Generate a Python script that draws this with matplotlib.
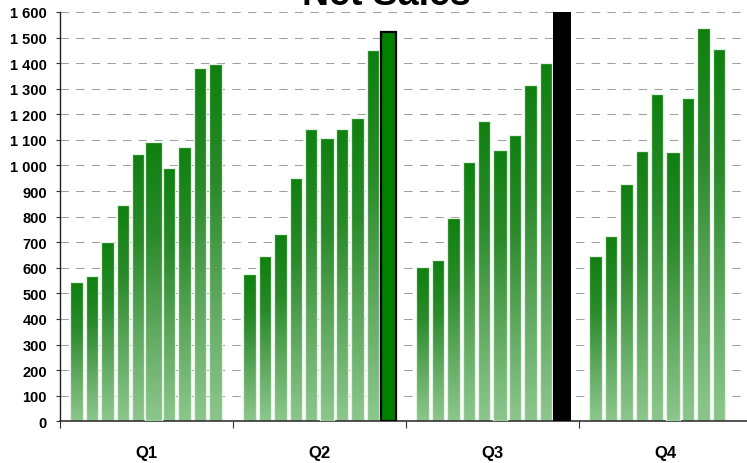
import numpy as np
import matplotlib
matplotlib.use('Agg')
import matplotlib.pyplot as plt
from matplotlib.colors import LinearSegmentedColormap
from matplotlib.ticker import FuncFormatter, MultipleLocator, FixedLocator

# Ventas netas por trimestre (10 periodos por trimestre, el Q4 aun incompleto)
trimestres = ['Q1', 'Q2', 'Q3', 'Q4']
ventas_q1 = [545, 567, 700, 845, 1045, 1090, 990, 1072, 1380, 1397]
ventas_q2 = [574, 645, 734, 953, 1142, 1108, 1142, 1186, 1450, 1522]
ventas_q3 = [605, 630, 794, 1013, 1172, 1061, 1120, 1313, 1402, 1600]
ventas_q4 = [648, 724, 927, 1056, 1278, 1053, 1263, 1538, 1456]

plt.rcParams['font.family'] = ['Liberation Sans', 'DejaVu Sans']

fig = plt.figure(figsize=(7.47, 4.64), dpi=100)
ax = fig.add_axes([59.5 / 747, 41.7 / 464, 692 / 747, 409.3 / 464])

# Degradado verde: claro abajo, oscuro arriba
verde = LinearSegmentedColormap.from_list('verde', ['#8dc68d', '#5fa85f', '#2a8a2a', '#0f800f'])
degradado = np.linspace(0, 1, 256).reshape(-1, 1)

paso = 0.0894
ancho = 0.072

for qi, valores in enumerate([ventas_q1, ventas_q2, ventas_q3, ventas_q4]):
    posiciones = qi + (np.arange(len(valores)) - 4.5) * paso
    for j, (x, v) in enumerate(zip(posiciones, valores)):
        if qi == 2 and j == 9:
            # periodo marcado en negro
            ax.bar(x, v, ancho * 1.44, color='black', zorder=4, clip_on=False)
            continue
        if qi == 1 and j == 9:
            # periodo seleccionado
            ax.bar(x, v, ancho * 1.17, color='#007f00', edgecolor='black', lw=1.6, zorder=4)
            continue
        w = ancho
        z = 2
        if j == 5:
            w = ancho * (1.33 if qi == 0 else 1.1)
            z = 3
        barra = ax.bar(x, v, w, color='none', edgecolor='#e3f2e3', lw=0.9, zorder=z + 0.1)[0]
        img = ax.imshow(degradado, cmap=verde, origin='lower', aspect='auto',
                        extent=[barra.get_x(), barra.get_x() + barra.get_width(), 0, barra.get_height()],
                        zorder=z, interpolation='bilinear')
        img.set_clip_path(barra)

ax.set_xlim(-0.5, 3.5)
ax.set_ylim(0, 1600)

# Rejilla horizontal discontinua
ax.yaxis.set_major_locator(MultipleLocator(100))
ax.yaxis.grid(True, color='#a0a0a0', linestyle=(0, (8, 7)), lw=0.75)
ax.set_axisbelow(True)
ax.yaxis.set_major_formatter(FuncFormatter(lambda v, p: f'{v:,.0f}'.replace(',', ' ')))
ax.tick_params(axis='y', length=3, width=0.8, color='#333333', pad=6, labelsize=10.5)
for t in ax.get_yticklabels():
    t.set_fontweight('bold')

# Marcas entre trimestres y etiquetas centradas
ax.xaxis.set_major_locator(FixedLocator([-0.5, 0.5, 1.5, 2.5, 3.5]))
ax.xaxis.set_major_formatter(FuncFormatter(lambda v, p: ''))
ax.xaxis.set_minor_locator(FixedLocator(range(len(trimestres))))
ax.set_xticklabels(trimestres, minor=True, fontsize=12, fontweight='bold')
ax.tick_params(axis='x', which='major', length=5, width=0.8, color='#333333')
ax.tick_params(axis='x', which='minor', length=0, pad=17)

ax.spines['top'].set_visible(False)
ax.spines['right'].set_visible(False)
ax.spines['left'].set_color('#222222')
ax.spines['left'].set_linewidth(1)
ax.spines['bottom'].set_color('#333333')
ax.spines['bottom'].set_linewidth(1.2)

fig.text(386.5 / 747, 1 - 5 / 464, 'Net Sales', ha='center', va='baseline',
         fontsize=27, fontweight='bold')

plt.savefig('out.png', dpi=100)
plt.close()
